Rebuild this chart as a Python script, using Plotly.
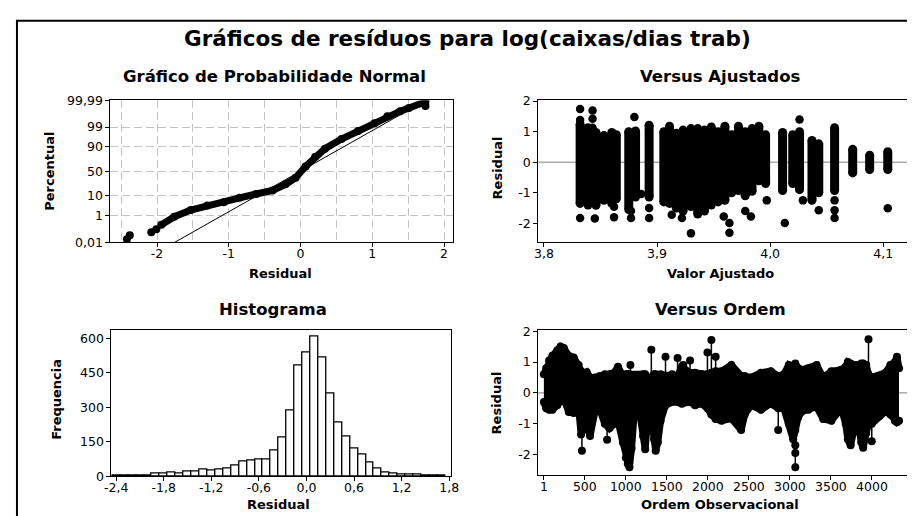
import plotly.graph_objects as go
from statistics import NormalDist

# ---------------- data ----------------
title_text = "Gráficos de resíduos para log(caixas/dias trab)"

# Normal probability plot: residual vs percent
prob_resid = [-2.42, -2.38, -2.08, -2.01, -1.94, -1.76, -1.53, -1.30, -1.07, -0.85,
              -0.62, -0.39, -0.21, -0.07, 0.07, 0.205, 0.34, 0.57, 0.80, 1.03,
              1.21, 1.39, 1.51, 1.74, 1.74]
prob_pct = [0.018, 0.04, 0.07, 0.12, 0.25, 0.86, 2.1, 3.7, 5.3, 8.2,
            11.7, 15.8, 24.8, 36.7, 60.0, 77.8, 88.3, 95.5, 98.3, 99.41,
            99.81, 99.92, 99.955, 99.987, 99.97]
fit_mu = -0.005
fit_sigma = 0.4697
pct_ticks = [0.01, 1, 10, 50, 90, 99, 99.99]
pct_ticktext = ["0,01", "1", "10", "50", "90", "99", "99,99"]
prob_xticks = [-2, -1, 0, 1, 2]

# Histogram (bins of width 0.1)
hist_centers = [-2.4, -2.3, -2.2, -2.1, -2.0, -1.9, -1.8, -1.7, -1.6, -1.5, -1.4, -1.3,
                -1.2, -1.1, -1.0, -0.9, -0.8, -0.7, -0.6, -0.5, -0.4, -0.3, -0.2, -0.1,
                0.0, 0.1, 0.2, 0.3, 0.4, 0.5, 0.6, 0.7, 0.8, 0.9, 1.0, 1.1, 1.2, 1.3,
                1.4, 1.5, 1.6, 1.7]
hist_counts = [2, 1, 1, 2, 3, 11, 11, 17, 10, 21, 21, 28,
               24, 30, 34, 45, 62, 70, 74, 74, 111, 166, 287, 480,
               537, 606, 516, 361, 234, 172, 121, 92, 58, 31, 17, 11, 6, 6,
               6, 1, 1, 1]
hist_xticks = [-2.4, -1.8, -1.2, -0.6, 0.0, 0.6, 1.2, 1.8]
hist_xticktext = ["-2,4", "-1,8", "-1,2", "-0,6", "0,0", "0,6", "1,2", "1,8"]
hist_yticks = [0, 150, 300, 450, 600]

# Versus fitted: columns of residuals at each fitted value (low / high of the dense column)
fit_cols = [3.832, 3.839, 3.846, 3.853, 3.860, 3.864,
            3.875, 3.881,
            3.893,
            3.906, 3.911, 3.917, 3.923, 3.930, 3.936, 3.942, 3.948, 3.954, 3.960,
            3.966, 3.972, 3.978, 3.984, 3.990, 3.996,
            4.011, 4.020, 4.026, 4.037, 4.043, 4.057, 4.073, 4.088, 4.104]
col_lo = [-1.35, -1.40, -1.41, -1.25, -1.35, -1.20,
          -1.55, -1.14,
          -1.14,
          -1.30, -1.35, -1.50, -1.60, -1.45, -1.70, -1.60, -1.40, -1.30, -1.25,
          -1.00, -0.93, -1.10, -0.95, -0.61, -0.70,
          -0.93, -0.70, -0.90, -1.25, -1.00, -0.93, -0.35, -0.24, -0.24]
col_hi = [1.24, 1.13, 0.97, 0.87, 0.97, 0.90,
          1.00, 1.02,
          1.21,
          1.00, 1.18, 0.95, 1.05, 1.10, 1.10, 1.05, 1.15, 1.00, 1.18,
          0.90, 1.18, 1.00, 1.10, 1.18, 0.90,
          0.97, 0.90, 1.00, 0.71, 0.60, 1.13, 0.42, 0.23, 0.34]
fit_out_x = [3.832, 3.832, 3.832, 3.843, 3.843, 3.843, 3.845, 3.862, 3.862, 3.880,
             3.877, 3.877, 3.886, 3.893, 3.893, 3.913, 3.922, 3.930, 3.964, 3.964,
             3.959, 3.978, 3.983, 3.997, 4.013, 4.026, 4.029, 4.043, 4.057, 4.057,
             4.057, 4.104]
fit_out_y = [1.74, 1.38, -1.83, 1.69, 1.42, 1.13, -1.84, -1.46, -1.80, 1.48,
             -1.60, -1.83, -1.04, -1.50, -1.83, -1.72, -1.83, -2.33, -1.99, -2.31,
             -1.78, -1.60, -1.78, -1.25, -1.99, 1.40, -1.25, -1.57, -1.25, -1.57,
             -1.83, -1.51]
fit_xticks = [3.8, 3.9, 4.0, 4.1]
fit_xticktext = ["3,8", "3,9", "4,0", "4,1"]
resid_yticks = [-2, -1, 0, 1, 2]

# Versus order: body envelope of the residual trace + isolated spikes
ord_x = [1, 30, 65, 105, 165, 205, 245, 305, 365, 425, 455, 480, 524, 564, 624, 684,
         744, 800, 860, 904, 964, 1000, 1024, 1044, 1070, 1104, 1164, 1210, 1236, 1264,
         1300, 1345, 1364, 1390, 1424, 1484, 1564, 1631, 1683, 1783, 1843, 1923, 1995,
         2043, 2095, 2167, 2287, 2406, 2450, 2527, 2647, 2767, 2858, 2926, 2986, 3040,
         3066, 3100, 3146, 3226, 3326, 3406, 3506, 3626, 3680, 3706, 3740, 3780, 3826,
         3870, 3893, 3930, 3958, 3998, 4085, 4165, 4225, 4280, 4305, 4330]
ord_hi = [0.60, 0.80, 1.05, 1.20, 1.38, 1.50, 1.45, 1.20, 1.15, 0.90, 0.70, 0.60, 0.67,
          0.50, 0.50, 0.55, 0.60, 0.60, 0.65, 0.85, 0.55, 0.60, 0.60, 0.60, 0.55, 0.55,
          0.55, 0.60, 0.60, 0.50, 0.50, 0.60, 0.60, 0.55, 0.60, 0.55, 0.60, 0.55, 0.85,
          0.65, 0.65, 0.60, 0.60, 0.65, 0.70, 0.70, 0.90, 0.55, 0.55, 0.50, 0.65, 0.70,
          0.55, 0.60, 0.90, 0.80, 0.95, 0.80, 0.75, 0.80, 0.90, 0.50, 0.70, 0.75, 0.85,
          1.00, 0.95, 0.90, 0.90, 0.95, 0.95, 0.90, 0.60, 0.50, 0.55, 0.65, 0.90, 1.00,
          1.17, 0.80]
ord_lo = [-0.30, -0.50, -0.55, -0.55, -0.40, -0.25, -0.20, -0.62, -0.65, -0.50, -1.35,
          -1.20, -0.90, -1.40, -0.60, -0.55, -1.00, -1.15, -1.00, -0.90, -1.60, -2.10,
          -2.30, -2.41, -1.80, -0.60, -0.55, -1.40, -1.83, -0.90, -0.50, -1.50, -1.88,
          -1.60, -0.90, -0.40, -0.30, -0.30, -0.35, -0.30, -0.40, -0.35, -0.50, -0.70,
          -0.85, -0.90, -0.83, -1.20, -0.70, -0.40, -0.55, -0.35, -0.50, -0.50, -1.00,
          -1.50, -1.20, -0.80, -0.60, -0.55, -0.45, -0.85, -0.90, -0.50, -1.00, -1.50,
          -1.70, -1.20, -0.90, -1.60, -1.78, -1.30, -1.00, -1.00, -0.75, -0.60, -0.70,
          -0.90, -0.95, -0.90]
spike_x = [465, 772, 1056, 1311, 1484, 1631, 1700, 1783, 1995, 2043, 2095, 2858,
           3066, 3066, 3066, 3958, 3998]
spike_y = [-1.88, -1.52, 0.90, 1.40, 1.17, 1.13, 0.90, 1.05, 1.31, 1.71, 1.17, -1.20,
           -1.70, -1.95, -2.41, 1.74, -1.57]
ord_xticks = [1, 500, 1000, 1500, 2000, 2500, 3000, 3500, 4000]

# ---------------- layout helpers ----------------
W, H = 915, 516
FONT = "DejaVu Sans"


def px_x(a, b):
    return [a / W, b / W]


def px_y(top, bottom):
    return [1 - bottom / H, 1 - top / H]


def z(p):
    return NormalDist().inv_cdf(p / 100.0)


fig = go.Figure()

# --- Normal probability plot ---
z_line = [z(pct_ticks[0]), z(pct_ticks[-1])]
fig.add_trace(go.Scatter(x=[fit_mu + fit_sigma * v for v in z_line], y=z_line,
                         mode="lines", line=dict(color="black", width=1),
                         xaxis="x", yaxis="y", showlegend=False, hoverinfo="skip"))
prob_z = [z(p) for p in prob_pct]
fig.add_trace(go.Scatter(x=prob_resid[4:], y=prob_z[4:], mode="lines+markers",
                         line=dict(color="black", width=7),
                         marker=dict(color="black", size=8),
                         xaxis="x", yaxis="y", showlegend=False))
fig.add_trace(go.Scatter(x=prob_resid[:4], y=prob_z[:4], mode="markers",
                         marker=dict(color="black", size=8),
                         xaxis="x", yaxis="y", showlegend=False))

# --- Versus fitted ---
cx, cy = [], []
for f, lo, hi in zip(fit_cols, col_lo, col_hi):
    cx += [f, f, None]
    cy += [lo, hi, None]
fig.add_trace(go.Scatter(x=cx, y=cy, mode="lines+markers",
                         line=dict(color="black", width=9),
                         marker=dict(color="black", size=9),
                         xaxis="x2", yaxis="y2", showlegend=False))
fig.add_trace(go.Scatter(x=fit_out_x, y=fit_out_y, mode="markers",
                         marker=dict(color="black", size=8.5),
                         xaxis="x2", yaxis="y2", showlegend=False))

# --- Histogram ---
fig.add_trace(go.Bar(x=hist_centers, y=hist_counts, width=0.1,
                     marker=dict(color="white", line=dict(color="black", width=1.3)),
                     xaxis="x3", yaxis="y3", showlegend=False))

# --- Versus order ---
sx, sy = [], []
for o, v in zip(spike_x, spike_y):
    sx += [o, o, None]
    sy += [0, v, None]
fig.add_trace(go.Scatter(x=sx, y=sy, mode="lines", line=dict(color="black", width=1.5),
                         xaxis="x4", yaxis="y4", showlegend=False))
fig.add_trace(go.Scatter(x=spike_x, y=spike_y, mode="markers",
                         marker=dict(color="black", size=8),
                         xaxis="x4", yaxis="y4", showlegend=False))
fig.add_trace(go.Scatter(x=ord_x, y=ord_hi, mode="lines+markers",
                         line=dict(color="black", width=7), marker=dict(color="black", size=8),
                         xaxis="x4", yaxis="y4", showlegend=False))
fig.add_trace(go.Scatter(x=ord_x, y=ord_lo, mode="lines+markers", fill="tonexty",
                         fillcolor="black",
                         line=dict(color="black", width=7), marker=dict(color="black", size=8),
                         xaxis="x4", yaxis="y4", showlegend=False))

tickfont = dict(family=FONT, size=12.5, color="black")
common = dict(showline=True, linecolor="black", linewidth=1, mirror=True,
              ticks="outside", ticklen=4, tickcolor="black", tickwidth=1,
              zeroline=False, showgrid=False, tickfont=tickfont, tickmode="array")
xcommon = dict(common, ticklabelstandoff=-4)
grid = dict(showgrid=True, gridcolor="#c4c4c4", gridwidth=1, griddash="8px,4px")

fig.update_layout(
    width=W, height=H, margin=dict(l=0, r=0, t=0, b=0),
    paper_bgcolor="white", plot_bgcolor="white",
    font=dict(family=FONT, color="black"),
    xaxis=dict(domain=px_x(97, 445), anchor="y", range=[-2.65, 2.12],
               tickvals=prob_xticks, ticktext=[str(v) for v in prob_xticks],
               minor=dict(tickvals=[-2.5, -1.5, -0.5, 0.5, 1.5], showgrid=True,
                          gridcolor="#c4c4c4", gridwidth=1, griddash="8px,4px", ticks=""),
               **{**xcommon, **grid}),
    yaxis=dict(domain=px_y(87, 233), anchor="x", range=[z(0.01), z(99.99)],
               tickvals=[z(p) for p in pct_ticks], ticktext=pct_ticktext,
               **{**common, **grid}),
    xaxis2=dict(domain=px_x(532, 908), anchor="y2", range=[3.795, 4.122],
                tickvals=fit_xticks, ticktext=fit_xticktext, **xcommon),
    yaxis2=dict(domain=px_y(87, 233), anchor="x2", range=[-2.62, 2.02],
                tickvals=resid_yticks, ticktext=[str(v) for v in resid_yticks], **common),
    xaxis3=dict(domain=px_x(98, 443), anchor="y3", range=[-2.46, 1.82],
                tickvals=hist_xticks, ticktext=hist_xticktext, **xcommon),
    yaxis3=dict(domain=px_y(323, 474), anchor="x3", range=[0, 638],
                tickvals=hist_yticks, ticktext=[str(v) for v in hist_yticks], **common),
    xaxis4=dict(domain=px_x(532, 908), anchor="y4", range=[-67, 4441],
                tickvals=ord_xticks, ticktext=[str(v) for v in ord_xticks], **xcommon),
    yaxis4=dict(domain=px_y(323, 473), anchor="x4", range=[-2.67, 2.05],
                tickvals=resid_yticks, ticktext=[str(v) for v in resid_yticks], **common),
    bargap=0,
)

# zero reference lines
for xr, yr in (("x2", "y2"), ("x4", "y4")):
    fig.add_shape(type="line", xref=f"{xr} domain", yref=yr, x0=0, x1=1, y0=0, y1=0,
                  line=dict(color="#808080", width=1), layer="below")

# outer frame (left & top visible)
fig.add_shape(type="rect", xref="paper", yref="paper", x0=2 / W, x1=1.05,
              y0=-0.05, y1=1 - 5 / H, line=dict(color="black", width=2))


def ann(text, xp, yp, size, angle=0):
    fig.add_annotation(text=text, x=xp / W, y=1 - yp / H, xref="paper", yref="paper",
                       showarrow=False, textangle=angle, xanchor="center", yanchor="middle",
                       font=dict(family=FONT, size=size, color="black"))


ann("<b>" + title_text + "</b>", 460, 23, 21.5)
ann("<b>Gráfico de Probabilidade Normal</b>", 264, 62, 16.5)
ann("<b>Versus Ajustados</b>", 717, 62, 16.5)
ann("<b>Histograma</b>", 262, 302, 16.5)
ann("<b>Versus Ordem</b>", 717, 302, 16.5)
ann("<b>Residual</b>", 270, 265, 13)
ann("<b>Valor Ajustado</b>", 717, 265, 13)
ann("<b>Residual</b>", 268, 503, 13)
ann("<b>Ordem Observacional</b>", 717, 503, 13)
ann("<b>Percentual</b>", 35, 160, 13, -90)
ann("<b>Residual</b>", 490, 156, 13, -90)
ann("<b>Frequencia</b>", 42, 395, 13, -90)
ann("<b>Residual</b>", 489, 398, 13, -90)

fig.write_html("out.html", config={"displayModeBar": False})
